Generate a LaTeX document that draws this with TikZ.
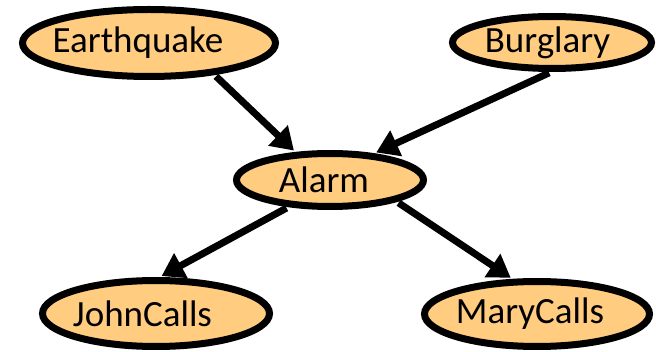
\documentclass[tikz,border=0pt]{standalone}
\usepackage{fontspec}
\setmainfont{Carlito}
\usepackage{tikz}
\usetikzlibrary{arrows.meta}
\usetikzlibrary{shapes.geometric}

\definecolor{nodefill}{HTML}{FFCC80}
% text set a little left of the ellipse centre
\newcommand{\leftlbl}[2]{\makebox[0pt]{#1\kern#2}}

\begin{document}
\begin{tikzpicture}[
      x=1pt,y=1pt,
      bnode/.style={ellipse,draw=black,line width=7pt,fill=nodefill,inner sep=0pt,
        font=\fontsize{37}{42}\selectfont},
      dep/.style={line width=7pt,shorten <=2pt,shorten >=2pt,
        -{Triangle[length=22pt,width=27pt]}},
    ]
        \useasboundingbox (0,0) rectangle (656,351);
        \node[bnode,minimum width=253pt,minimum height=67pt] (eq) at (149,308) {\leftlbl{Earthquake}{22pt}};
        \node[bnode,minimum width=199pt,minimum height=52pt] (bu) at (552,308.5) {\leftlbl{Burglary}{9pt}};
        \node[bnode,minimum width=187pt,minimum height=53pt] (al) at (330,171) {\leftlbl{Alarm}{12pt}};
        \node[bnode,minimum width=227pt,minimum height=66pt] (jc) at (156,37.5) {\leftlbl{JohnCalls}{27pt}};
        \node[bnode,minimum width=225pt,minimum height=65pt] (mc) at (537,37) {\leftlbl{MaryCalls}{14pt}};

        \draw[dep] (eq.-26) -- (al.141);
        \draw[dep] (bu.-92) -- (al.31);
        \draw[dep] (al.-147) -- (jc.84);
        \draw[dep] (al.-18) -- (mc.125);
    \end{tikzpicture}
\end{document}
